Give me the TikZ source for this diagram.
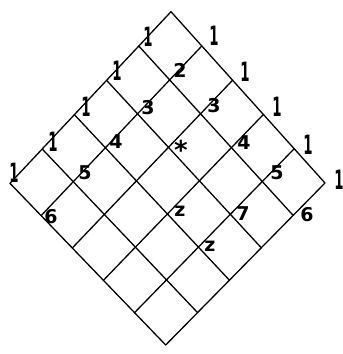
\documentclass[tikz,border=0pt]{standalone}
\usepackage{fontspec}
\setmainfont{DejaVu Sans}[BoldFont={DejaVu Sans Bold}]
\usetikzlibrary{calc}
\begin{document}
\begin{tikzpicture}[x=1pt,y=-1pt,
  gridline/.style={line width=1.3pt,line cap=round},
  lab/.style={inner sep=0pt,font=\fontsize{19}{19}\selectfont\bfseries},
  one/.style={inner sep=0pt,font=\fontsize{19}{19}\selectfont\bfseries,xscale=0.7,yscale=1.4}]
\useasboundingbox (0,0) rectangle (343,354);
\foreach \i in {0,...,5}{
  \foreach \j in {0,...,5}{
    \pgfmathsetmacro\uu{\i/5}
    \pgfmathsetmacro\vv{\j/5}
    \pgfmathsetmacro\px{(1-\uu)*(1-\vv)*171+\uu*(1-\vv)*325+\uu*\vv*165.7+(1-\uu)*\vv*10}
    \pgfmathsetmacro\py{(1-\uu)*(1-\vv)*11.7+\uu*(1-\vv)*183+\uu*\vv*345+(1-\uu)*\vv*183.3}
    \coordinate (p-\i-\j) at (\px,\py);
  }
}
\foreach \i in {0,...,5}{
  \draw[gridline] (p-\i-0) -- (p-\i-5);
  \draw[gridline] (p-0-\i) -- (p-5-\i);
}
% left edge ones
\node[one] (l1) at (148,37) {1};
\node[one] (l2) at (117,71) {1};
\node[one] (l3) at (86,107) {1};
\node[one] (l4) at (53,142) {1};
\node[one] (l5) at (14,173) {1};
% right edge ones
\node[one] (r1) at (214,36) {1};
\node[one] (r2) at (245,72) {1};
\node[one] (r3) at (277,107) {1};
\node[one] (r4) at (308,145) {1};
\node[one] (r5) at (339,180) {1};
% interior
\node[lab] (n2) at (180,70) {2};
\node[lab] (n3a) at (148,108) {3};
\node[lab] (n3b) at (214,106) {3};
\node[lab] (n4a) at (116,142) {4};
\node[lab,font=\fontsize{26}{26}\selectfont\bfseries] (n6c) at (181,150) {*};
\node[lab] (n4b) at (244,143) {4};
\node[lab] (n5a) at (85,173) {5};
\node[lab] (n5b) at (277,173) {5};
\node[lab] (n6a) at (51,217) {6};
\node[lab] (n6b) at (307,215) {6};
\node[lab] (z1) at (180,211) {z};
\node[lab] (s1) at (243,214) {7};
\node[lab] (z2) at (210,246) {z};
\end{tikzpicture}
\end{document}
